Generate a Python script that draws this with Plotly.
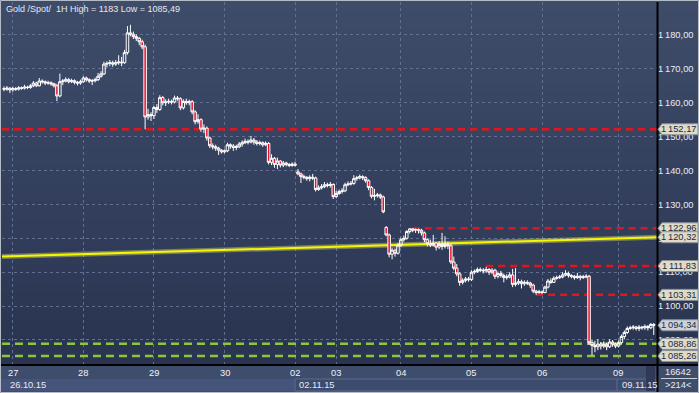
import plotly.graph_objects as go

# ---------------- data ----------------
opens = [
    1164.2, 1164.0, 1164.3, 1163.8, 1164.2, 1164.0, 1164.4, 1164.3, 1164.6, 1164.5,
    1165.0, 1165.8, 1165.0, 1166.4, 1166.2, 1165.8, 1165.9, 1165.6, 1165.0, 1162.0,
    1166.2, 1166.4, 1166.8, 1166.2, 1166.5, 1166.0, 1165.8, 1166.2, 1167.3, 1166.8,
    1166.4, 1166.5, 1166.8, 1167.8, 1168.5, 1171.4, 1171.6, 1171.8, 1171.4, 1171.8,
    1172.0, 1171.8, 1174.8, 1180.6, 1180.2, 1179.5, 1179.0, 1178.0, 1176.5, 1155.8,
    1156.5, 1156.2, 1158.6, 1158.0, 1161.5, 1160.0, 1160.2, 1160.4, 1160.2, 1161.4,
    1161.2, 1158.5, 1160.4, 1160.0, 1160.3, 1157.3, 1154.4, 1155.0, 1152.2, 1152.5,
    1149.6, 1147.3, 1147.0, 1146.6, 1146.0, 1145.5, 1145.8, 1147.6, 1147.2, 1146.8,
    1147.0, 1147.8, 1148.2, 1148.6, 1148.4, 1149.0, 1148.4, 1148.0, 1148.2, 1147.6,
    1148.0, 1142.4, 1143.6, 1141.8, 1142.8, 1141.6, 1142.2, 1141.8, 1141.5, 1141.9,
    1139.6, 1139.0, 1138.2, 1138.0, 1137.6, 1138.0, 1137.8, 1134.4, 1134.9, 1135.2,
    1135.8, 1135.6, 1135.9, 1132.3, 1133.2, 1133.8, 1134.0, 1135.8, 1136.0, 1136.2,
    1137.6, 1137.8, 1138.2, 1137.9, 1137.0, 1135.0, 1132.4, 1132.6, 1132.8, 1132.2,
    1123.2, 1121.0, 1115.3, 1116.5, 1115.6, 1118.0, 1119.6, 1120.0, 1122.0, 1122.8,
    1122.4, 1122.6, 1122.4, 1121.6, 1119.6, 1118.4, 1118.0, 1118.6, 1117.4, 1118.2,
    1117.6, 1118.2, 1117.8, 1113.0, 1111.2, 1109.5, 1107.0, 1107.6, 1108.0, 1107.8,
    1110.0, 1110.2, 1110.8, 1110.6, 1110.4, 1110.8, 1110.0, 1110.6, 1108.8, 1109.6,
    1109.0, 1108.4, 1108.6, 1109.2, 1106.4, 1106.8, 1107.2, 1106.6, 1107.0, 1106.8,
    1106.2, 1104.4, 1104.0, 1104.2, 1104.0, 1105.6, 1107.4, 1107.0, 1108.2, 1108.4,
    1108.6, 1109.2, 1109.6, 1109.0, 1108.8, 1108.4, 1108.8, 1108.4, 1108.6, 1108.8,
    1089.2, 1088.4, 1088.0, 1088.8, 1088.2, 1088.6, 1088.0, 1089.4, 1088.8, 1088.2,
    1089.2, 1091.0, 1092.2, 1093.4, 1093.6, 1093.8, 1093.4, 1093.8, 1093.6, 1094.0,
    1093.6, 1094.6,
]
highs = [
    1164.8, 1164.9, 1164.6, 1164.7, 1164.6, 1164.9, 1164.8, 1165.3, 1165.0, 1165.5,
    1166.4, 1166.2, 1167.3, 1166.9, 1166.6, 1166.5, 1166.3, 1165.9, 1165.6, 1168.6,
    1167.0, 1167.5, 1167.3, 1167.1, 1166.9, 1166.4, 1166.8, 1167.8, 1167.7, 1167.2,
    1167.0, 1167.4, 1168.8, 1169.3, 1172.1, 1172.2, 1172.6, 1172.4, 1172.6, 1174.0,
    1173.5, 1175.6, 1182.6, 1183.0, 1181.0, 1180.2, 1179.4, 1178.6, 1177.2, 1158.2,
    1157.2, 1159.0, 1159.6, 1162.2, 1162.0, 1161.0, 1161.2, 1160.9, 1162.1, 1162.0,
    1161.6, 1161.0, 1161.2, 1160.9, 1160.8, 1157.8, 1156.6, 1155.4, 1153.6, 1153.0,
    1150.0, 1148.0, 1147.6, 1147.0, 1146.3, 1146.2, 1148.2, 1148.0, 1147.8, 1147.6,
    1148.4, 1148.9, 1149.4, 1149.2, 1150.2, 1149.6, 1149.0, 1148.8, 1148.6, 1148.6,
    1148.4, 1144.8, 1144.0, 1143.8, 1143.0, 1142.8, 1142.6, 1142.2, 1142.4, 1142.6,
    1140.4, 1139.4, 1138.8, 1138.4, 1138.6, 1139.0, 1138.2, 1135.6, 1136.0, 1136.6,
    1136.4, 1136.6, 1136.2, 1134.0, 1134.4, 1134.8, 1136.4, 1136.8, 1136.9, 1138.6,
    1138.4, 1138.8, 1138.6, 1138.3, 1137.4, 1135.4, 1134.6, 1133.4, 1133.2, 1132.6,
    1123.6, 1121.4, 1117.2, 1117.0, 1118.6, 1120.2, 1120.8, 1122.4, 1122.9, 1122.96,
    1122.9, 1122.9, 1122.8, 1122.0, 1120.0, 1119.6, 1121.0, 1119.0, 1119.2, 1121.6,
    1120.6, 1119.0, 1118.4, 1114.6, 1112.4, 1110.0, 1108.2, 1108.6, 1108.6, 1110.6,
    1110.8, 1111.4, 1111.4, 1111.2, 1111.6, 1111.2, 1111.2, 1111.0, 1110.2, 1110.4,
    1109.6, 1109.4, 1110.0, 1111.0, 1111.2, 1108.0, 1107.8, 1107.6, 1107.6, 1107.2,
    1106.6, 1104.8, 1104.8, 1104.6, 1106.0, 1108.0, 1108.2, 1108.8, 1109.0, 1109.2,
    1110.0, 1110.6, 1110.2, 1109.4, 1109.2, 1109.8, 1109.2, 1109.2, 1109.4, 1109.2,
    1090.0, 1089.8, 1090.2, 1089.4, 1089.6, 1089.2, 1090.2, 1090.0, 1089.2, 1089.8,
    1091.6, 1092.8, 1094.0, 1094.2, 1094.4, 1094.2, 1094.4, 1094.2, 1094.6, 1094.4,
    1095.0, 1095.0,
]
lows = [
    1163.4, 1163.5, 1162.9, 1163.3, 1163.5, 1163.6, 1163.8, 1163.9, 1164.0, 1164.1,
    1164.6, 1164.6, 1164.8, 1165.6, 1165.2, 1165.3, 1165.0, 1164.5, 1160.5, 1161.6,
    1165.2, 1166.0, 1165.7, 1165.8, 1165.4, 1165.1, 1165.3, 1165.9, 1166.2, 1165.8,
    1165.2, 1166.0, 1166.4, 1167.4, 1168.2, 1170.4, 1170.8, 1170.6, 1170.9, 1171.2,
    1170.8, 1171.5, 1174.2, 1179.6, 1178.8, 1178.2, 1177.0, 1175.8, 1152.17, 1155.0,
    1154.6, 1155.2, 1157.0, 1157.6, 1159.2, 1159.0, 1159.6, 1159.5, 1159.8, 1160.6,
    1157.8, 1158.0, 1159.4, 1159.2, 1156.6, 1153.6, 1153.8, 1151.4, 1151.0, 1148.8,
    1146.6, 1146.2, 1145.8, 1144.6, 1145.0, 1145.1, 1145.4, 1146.4, 1145.8, 1146.0,
    1146.6, 1147.0, 1147.8, 1147.7, 1148.0, 1147.6, 1147.4, 1147.4, 1147.0, 1147.2,
    1141.8, 1141.6, 1140.8, 1140.4, 1140.9, 1141.0, 1141.2, 1141.0, 1141.1, 1141.2,
    1138.6, 1136.3, 1137.4, 1137.0, 1136.8, 1137.2, 1133.8, 1134.0, 1134.4, 1134.8,
    1135.0, 1135.0, 1131.6, 1131.8, 1132.8, 1133.2, 1133.6, 1135.4, 1135.6, 1135.8,
    1137.0, 1137.4, 1137.2, 1136.4, 1134.2, 1131.8, 1131.2, 1132.0, 1131.6, 1127.4,
    1120.6, 1114.4, 1113.8, 1114.6, 1115.2, 1117.4, 1119.0, 1119.6, 1121.4, 1121.8,
    1121.6, 1121.4, 1120.8, 1118.8, 1117.6, 1117.4, 1117.6, 1116.4, 1116.8, 1116.6,
    1117.0, 1116.8, 1112.4, 1110.6, 1108.8, 1106.0, 1106.4, 1107.0, 1107.2, 1107.4,
    1109.4, 1109.8, 1110.0, 1109.6, 1109.8, 1109.2, 1109.4, 1108.0, 1108.2, 1108.4,
    1107.0, 1107.8, 1108.2, 1105.6, 1105.8, 1106.2, 1105.2, 1106.0, 1106.2, 1105.4,
    1103.8, 1103.31, 1103.6, 1103.5, 1103.8, 1105.2, 1106.6, 1106.8, 1107.8, 1108.0,
    1108.2, 1108.8, 1108.4, 1108.2, 1107.8, 1108.0, 1107.6, 1108.0, 1108.2, 1088.6,
    1085.49, 1086.4, 1087.0, 1087.2, 1087.6, 1087.0, 1087.6, 1088.0, 1087.6, 1087.8,
    1088.6, 1090.2, 1091.8, 1093.0, 1093.0, 1092.8, 1092.6, 1093.0, 1093.0, 1092.8,
    1093.2, 1091.5,
]
closes = [
    1164.0, 1164.3, 1163.8, 1164.2, 1164.0, 1164.4, 1164.3, 1164.6, 1164.5, 1165.0,
    1165.8, 1165.0, 1166.4, 1166.2, 1165.8, 1165.9, 1165.6, 1165.0, 1162.0, 1166.2,
    1166.4, 1166.8, 1166.2, 1166.5, 1166.0, 1165.8, 1166.2, 1167.3, 1166.8, 1166.4,
    1166.5, 1166.8, 1167.8, 1168.5, 1171.4, 1171.6, 1171.8, 1171.4, 1171.8, 1172.0,
    1171.8, 1174.8, 1180.6, 1180.2, 1179.5, 1179.0, 1178.0, 1176.5, 1155.8, 1156.5,
    1156.2, 1158.6, 1158.0, 1161.5, 1160.0, 1160.2, 1160.4, 1160.2, 1161.4, 1161.2,
    1158.5, 1160.4, 1160.0, 1160.3, 1157.3, 1154.4, 1155.0, 1152.2, 1152.5, 1149.6,
    1147.3, 1147.0, 1146.6, 1146.0, 1145.5, 1145.8, 1147.6, 1147.2, 1146.8, 1147.0,
    1147.8, 1148.2, 1148.6, 1148.4, 1149.0, 1148.4, 1148.0, 1148.2, 1147.6, 1148.0,
    1142.4, 1143.6, 1141.8, 1142.8, 1141.6, 1142.2, 1141.8, 1141.5, 1141.9, 1141.6,
    1139.0, 1138.2, 1138.0, 1137.6, 1138.0, 1137.8, 1134.4, 1134.9, 1135.2, 1135.8,
    1135.6, 1135.9, 1132.3, 1133.2, 1133.8, 1134.0, 1135.8, 1136.0, 1136.2, 1137.6,
    1137.8, 1138.2, 1137.9, 1137.0, 1135.0, 1132.4, 1132.6, 1132.8, 1132.2, 1127.8,
    1121.0, 1115.3, 1116.5, 1115.6, 1118.0, 1119.6, 1120.0, 1122.0, 1122.8, 1122.4,
    1122.6, 1122.4, 1121.6, 1119.6, 1118.4, 1118.0, 1118.6, 1117.4, 1118.2, 1117.6,
    1118.2, 1117.8, 1113.0, 1111.2, 1109.5, 1107.0, 1107.6, 1108.0, 1107.8, 1110.0,
    1110.2, 1110.8, 1110.6, 1110.4, 1110.8, 1110.0, 1110.6, 1108.8, 1109.6, 1109.0,
    1108.4, 1108.6, 1109.2, 1106.4, 1106.8, 1107.2, 1106.6, 1107.0, 1106.8, 1106.2,
    1104.4, 1104.0, 1104.2, 1104.0, 1105.6, 1107.4, 1107.0, 1108.2, 1108.4, 1108.6,
    1109.2, 1109.6, 1109.0, 1108.8, 1108.4, 1108.8, 1108.4, 1108.6, 1108.8, 1089.2,
    1088.4, 1088.0, 1088.8, 1088.2, 1088.6, 1088.0, 1089.4, 1088.8, 1088.2, 1089.2,
    1091.0, 1092.2, 1093.4, 1093.6, 1093.8, 1093.4, 1093.8, 1093.6, 1094.0, 1093.6,
    1094.6, 1094.34,
]

day_tick_bars = [3, 27, 51, 75, 99, 113, 135, 159, 183, 209]
day_labels = ["27", "28", "29", "30", "02", "03", "04", "05", "06", "09"]
date_label_bars = [0, 99, 209]
date_labels = ["26.10.15", "02.11.15", "09.11.15"]
price_ticks = [1090, 1100, 1110, 1120, 1130, 1140, 1150, 1160, 1170, 1180]

resistance_levels = [1152.17, 1122.96, 1111.83, 1103.31]
resistance_start_bars = [None, 139, 164, 181]
support_levels = [1088.86, 1085.26]
trend_values = [1114.6, 1120.32]
last_price = 1094.34
title_text = "Gold /Spot/\u00a0 1H High = 1183 Low = 1085,49"
footer_texts = ["16642", ">214<"]

# ---------------- layout geometry ----------------
W, H = 699, 393
ML, MR, MT, MB = 2, 42, 2, 28
PW, PH = W - ML - MR, H - MT - MB
N = len(closes)
X_RANGE = [-0.68, N + 0.11]
Y_RANGE = [1082.62, 1189.72]
FONT = "Liberation Sans, Arial, sans-serif"
FS = 9.3


def fmt(v):
    return f"{v:,.2f}".replace(",", "\u2009").replace(".", ",")


def pxx(p):
    # figure pixel (from left) -> paper (plot-area) coordinate
    return (p - ML) / PW


def pxy(p):
    # figure pixel (from top) -> paper (plot-area) coordinate
    return (H - MB - p) / PH


fig = go.Figure()

fig.add_trace(go.Candlestick(
    x=list(range(N)), open=opens, high=highs, low=lows, close=closes,
    increasing=dict(line=dict(color="#ffffff", width=1), fillcolor="rgba(0,0,0,0)"),
    decreasing=dict(line=dict(color="#ffffff", width=1), fillcolor="#e8102a"),
    whiskerwidth=0, hoverinfo="skip", showlegend=False,
))

shapes = []
# background gradient (plot area + right scale)
nb = 40
top_c = (62, 76, 106)
bot_c = (41, 52, 80)
for k in range(nb):
    t = k / (nb - 1)
    c = tuple(round(top_c[j] + (bot_c[j] - top_c[j]) * t) for j in range(3))
    y0p = 2 + 363 * k / nb
    y1p = 2 + 363 * (k + 1) / nb + 0.6
    shapes.append(dict(type="rect", xref="paper", yref="paper", x0=pxx(0), x1=pxx(699),
                       y0=pxy(y1p), y1=pxy(y0p), line=dict(width=0),
                       fillcolor=f"rgb{c}", layer="below"))
shapes.append(dict(type="rect", xref="paper", yref="paper", x0=pxx(0), x1=pxx(699), y0=pxy(2), y1=pxy(0),
                   line=dict(width=0), fillcolor="rgb(62,76,106)", layer="below"))
# bottom axis rows
shapes.append(dict(type="rect", xref="paper", yref="paper", x0=pxx(0), x1=pxx(699), y0=pxy(393), y1=pxy(365),
                   line=dict(width=0), fillcolor="#3e4d6c", layer="below"))
shapes.append(dict(type="rect", xref="paper", yref="paper", x0=pxx(1), x1=pxx(295), y0=pxy(391), y1=pxy(379),
                   line=dict(width=0), fillcolor="#45547a", layer="below"))
shapes.append(dict(type="rect", xref="paper", yref="paper", x0=pxx(295), x1=pxx(656), y0=pxy(391), y1=pxy(379),
                   line=dict(color="#5d6b8c", width=1), fillcolor="#3c4b6e", layer="below"))
shapes.append(dict(type="line", xref="paper", yref="paper", x0=pxx(617), x1=pxx(617), y0=pxy(391), y1=pxy(379),
                   line=dict(color="#5d6b8c", width=1), layer="below"))
shapes.append(dict(type="rect", xref="paper", yref="paper", x0=pxx(646), x1=pxx(655), y0=pxy(391), y1=pxy(366),
                   line=dict(width=0), fillcolor="#2e3a58", layer="below"))

# level lines (between grid and candles)
for lvl, sb in zip(resistance_levels, resistance_start_bars):
    shapes.append(dict(type="line", xref="x", yref="y",
                       x0=X_RANGE[0] if sb is None else sb, x1=X_RANGE[1], y0=lvl, y1=lvl,
                       line=dict(color="#e3141e", width=2.5, dash="7px,5px"), layer="between"))
for lvl in support_levels:
    shapes.append(dict(type="line", xref="x", yref="y", x0=X_RANGE[0], x1=X_RANGE[1], y0=lvl, y1=lvl,
                       line=dict(color="#8cc63e", width=2.5, dash="8px,5px"), layer="between"))
shapes.append(dict(type="line", xref="x", yref="y", x0=X_RANGE[0], x1=X_RANGE[1],
                   y0=trend_values[0], y1=trend_values[1],
                   line=dict(color="rgba(255,255,110,0.35)", width=5), layer="between"))
shapes.append(dict(type="line", xref="x", yref="y", x0=X_RANGE[0], x1=X_RANGE[1],
                   y0=trend_values[0], y1=trend_values[1],
                   line=dict(color="#f6f600", width=2), layer="between"))

# black separators
shapes.append(dict(type="line", xref="paper", yref="paper", x0=pxx(657.5), x1=pxx(657.5), y0=pxy(393), y1=pxy(2),
                   line=dict(color="#000000", width=2), layer="above"))
shapes.append(dict(type="line", xref="paper", yref="paper", x0=pxx(0), x1=pxx(699), y0=pxy(365), y1=pxy(365),
                   line=dict(color="#000000", width=2), layer="above"))
shapes.append(dict(type="line", xref="paper", yref="paper", x0=pxx(661), x1=pxx(697), y0=pxy(378.5), y1=pxy(378.5),
                   line=dict(color="#c8d0dc", width=1), layer="above"))
shapes.append(dict(type="rect", xref="paper", yref="paper", x0=pxx(0.5), x1=pxx(698.5), y0=pxy(392.5), y1=pxy(0.5),
                   line=dict(color="#b4bcc8", width=1), fillcolor="rgba(0,0,0,0)", layer="above"))

annotations = []
# price tags on the right scale
tag_levels = resistance_levels + [trend_values[1], last_price] + support_levels
for lvl in tag_levels:
    fill = "#cdd2da" if lvl == last_price else "#dedbc6"
    shapes.append(dict(type="path", xref="paper", yref="y", xsizemode="pixel", ysizemode="pixel",
                       xanchor=pxx(699), yanchor=lvl,
                       path="M -41 0 L -37 5.5 L -1 5.5 L -1 -5.5 L -37 -5.5 Z",
                       fillcolor=fill, line=dict(color="#8a8f98", width=1), layer="above"))
    annotations.append(dict(xref="paper", yref="y", x=pxx(699), y=lvl, xanchor="right", yanchor="middle",
                            xshift=-1, text=fmt(lvl), showarrow=False,
                            font=dict(family=FONT, size=FS, color="#1c2946")))

annotations.append(dict(xref="paper", yref="paper", x=pxx(4), y=pxy(1.5), xanchor="left", yanchor="top",
                        text=title_text, showarrow=False,
                        font=dict(family=FONT, size=9, color="#e4e8f0")))
for b, lab in zip(day_tick_bars, day_labels):
    annotations.append(dict(xref="x", yref="paper", x=b, y=pxy(372.5), xanchor="center", yanchor="middle",
                            text=lab, showarrow=False, font=dict(family=FONT, size=FS, color="#f0f2f6")))
for b, lab in zip(date_label_bars, date_labels):
    annotations.append(dict(xref="x", yref="paper", x=b, y=pxy(385), xanchor="left", yanchor="middle",
                            xshift=4 if b == 0 else 2, text=lab, showarrow=False,
                            font=dict(family=FONT, size=FS, color="#e8ecf2")))
for t, yp in zip(footer_texts, [372, 384.5]):
    annotations.append(dict(xref="paper", yref="paper", x=pxx(678), y=pxy(yp), xanchor="center", yanchor="middle",
                            text=t, showarrow=False, font=dict(family=FONT, size=FS, color="#e8ecf2")))

fig.update_layout(
    width=W, height=H,
    margin=dict(l=ML, r=MR, t=MT, b=MB, pad=0, autoexpand=False),
    paper_bgcolor="#3e4d6c", plot_bgcolor="rgba(0,0,0,0)",
    showlegend=False, boxgap=0.15, boxgroupgap=0,
    shapes=shapes, annotations=annotations,
    xaxis=dict(range=X_RANGE, rangeslider=dict(visible=False), tickvals=day_tick_bars,
               showticklabels=False, ticks="", showgrid=True, gridcolor="#617090", gridwidth=1,
               griddash="3px,3px", zeroline=False, showline=False, fixedrange=True, automargin=False),
    yaxis=dict(range=Y_RANGE, side="right", tickvals=price_ticks, ticktext=[fmt(v) for v in price_ticks],
               ticks="", showgrid=True, gridcolor="#617090", gridwidth=1, griddash="3px,3px",
               zeroline=False, showline=False, tickfont=dict(family=FONT, size=FS, color="#e8ecf2"),
               fixedrange=True, automargin=False),
)

fig.write_html(
    "out.html",
    config={"displayModeBar": False},
    post_script="document.body.style.margin='0';document.body.style.overflow='hidden';"
                "document.documentElement.style.overflow='hidden';",
)
